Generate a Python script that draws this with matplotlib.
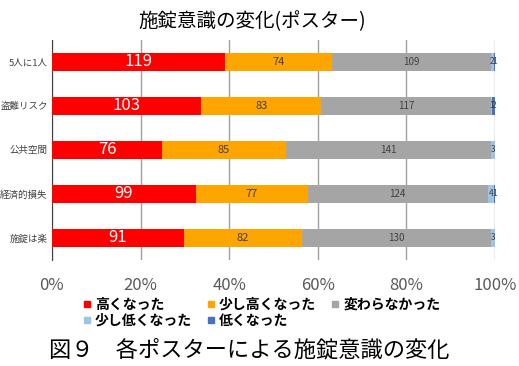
import matplotlib
matplotlib.use('Agg')
import numpy as np
from matplotlib import pyplot as plt
from matplotlib.lines import Line2D

plt.rcParams['font.family'] = ['Noto Sans CJK JP', 'DejaVu Sans']

categories = ['5人に1人', '盗難リスク', '公共空間', '経済的損失', '施錠は楽']
high = [119, 103, 76, 99, 91]
slightly_high = [74, 83, 85, 77, 82]
no_change = [109, 117, 141, 124, 130]
slightly_low = [2, 1, 3, 4, 3]
low = [1, 2, 0, 1, 0]

series_names = ['高くなった', '少し高くなった', '変わらなかった', '少し低くなった', '低くなった']
colors = ['#ff0000', '#ffa500', '#a5a5a5', '#9dc3e6', '#4472c4']
label_colors = ['white', '#404040', '#404040', '#404040', '#404040']
label_sizes = [12, 8, 7, 6, 6]

data = np.array([high, slightly_high, no_change, slightly_low, low], dtype=float)
totals = data.sum(axis=0)
pct = data / totals * 100

fig = plt.figure(figsize=(5.19, 3.66), dpi=100)
ax = fig.add_axes([0.100, 0.290, 0.854, 0.601])

y = np.arange(len(categories))
left = np.zeros(len(categories))
for i in range(len(series_names)):
    ax.barh(y, pct[i], left=left, height=0.42, color=colors[i], zorder=3)
    for j in range(len(categories)):
        if data[i, j] > 0:
            ax.text(left[j] + pct[i, j] / 2, y[j], f'{int(data[i, j])}',
                    ha='center', va='center', color=label_colors[i],
                    fontsize=label_sizes[i], zorder=4)
    left += pct[i]

ax.set_xlim(0, 100)
ax.set_ylim(len(categories) - 0.5, -0.5)
ax.set_xticks([0, 20, 40, 60, 80, 100])
ax.set_xticklabels(['0%', '20%', '40%', '60%', '80%', '100%'], color='#595959', fontsize=12)
ax.set_yticks(y)
ax.set_yticklabels(categories, fontsize=6.8, color='#404040')
ax.tick_params(axis='y', length=0, pad=3)
ax.tick_params(axis='x', length=0, pad=12)
ax.grid(axis='x', color='#a0a0a0', linewidth=1, zorder=0)
for s in ['top', 'right', 'bottom']:
    ax.spines[s].set_visible(False)
ax.spines['left'].set_color('#404040')

fig.text(0.485, 0.94, '施錠意識の変化(ポスター)', ha='center', va='center', fontsize=14)

# row-major legend order for 3 columns
order = [0, 3, 1, 4, 2]
handles = [Line2D([], [], marker='s', linestyle='', markersize=5,
                  markerfacecolor=colors[k], markeredgecolor=colors[k]) for k in order]
labels = [series_names[k] for k in order]
leg = fig.legend(handles, labels, loc='center left', bbox_to_anchor=(0.148, 0.145),
                 ncol=3, frameon=False, prop={'size': 10, 'weight': 'bold'},
                 handlelength=0.6, handletextpad=0.3, columnspacing=1.05,
                 labelspacing=0.15, borderaxespad=0)

fig.text(0.095, 0.045, '図９　各ポスターによる施錠意識の変化', ha='left', va='center', fontsize=16)

fig.savefig('out.png', dpi=100)
